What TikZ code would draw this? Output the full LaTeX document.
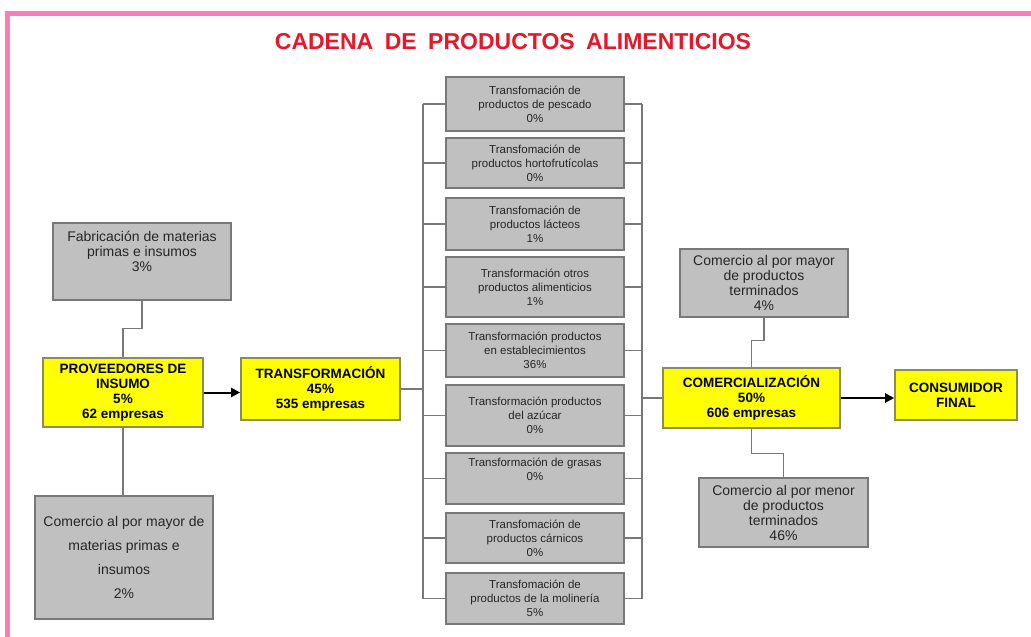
\documentclass[tikz,border=0pt]{standalone}
\usepackage{fontspec}
\setmainfont{Liberation Sans}
\usetikzlibrary{arrows.meta}
\definecolor{pinkb}{RGB}{255,122,186}
\definecolor{titred}{RGB}{232,22,40}
\definecolor{gfill}{RGB}{192,192,192}
\definecolor{gline}{RGB}{120,120,120}
\definecolor{yfill}{RGB}{255,255,0}
\definecolor{yline}{RGB}{140,140,90}
\tikzset{
  gbox/.style={draw=gline, line width=1.6pt, fill=gfill, inner sep=0pt, align=center, text=black!85},
  sidetext/.style={font=\fontsize{14}{15}\selectfont},
  midbox/.style={gbox, minimum width=178pt, font=\fontsize{11.5}{14}\selectfont},
  ybox/.style={draw=yline, line width=1.6pt, fill=yfill, inner sep=0pt, align=center, font=\bfseries\fontsize{13.5}{15}\selectfont},
  conn/.style={draw=gline, line width=1.3pt},
  arr/.style={draw=black, line width=2pt, -{Triangle[length=9pt,width=9pt]}}
}
\begin{document}
\begin{tikzpicture}[x=1pt,y=-1pt]
\useasboundingbox (0,0) rectangle (1031,637);
\fill[white] (0,0) rectangle (1031,637);
\draw[pinkb, line width=5pt] (1031,13) -- (7,13) -- (7,637);
\node[font=\bfseries\fontsize{23}{25}\selectfont, text=titred] (title) at (513,42)
  {CADENA\hspace{0.5em}DE\hspace{0.5em}PRODUCTOS\hspace{0.5em}ALIMENTICIOS};

% left side
\node[gbox, sidetext, minimum width=178pt, minimum height=77pt] (fab) at (142,261.5)
  {Fabricación de materias\\primas e insumos\\3\%\\ \strut};
\node[ybox, minimum width=160pt, minimum height=69pt] (prov) at (123,392.5)
  {PROVEEDORES DE\\INSUMO\\5\%\\62 empresas};
\node[gbox, font=\fontsize{14}{24}\selectfont, minimum width=178pt, minimum height=123pt] (cmm) at (124,557.5)
  {Comercio al por mayor de\\materias primas e\\insumos\\2\%};
\node[ybox, minimum width=159pt, minimum height=62pt] (trans) at (320.5,389)
  {TRANSFORMACIÓN\\45\%\\535 empresas};

% middle column
\node[midbox, minimum height=54pt] (b1) at (535,104) {Transfomación de\\productos de pescado\\0\%};
\node[midbox, minimum height=50pt] (b2) at (535,163) {Transfomación de\\productos hortofrutícolas\\0\%};
\node[midbox, minimum height=52pt] (b3) at (535,224) {Transfomación de\\productos lácteos\\1\%};
\node[midbox, minimum height=60pt] (b4) at (535,287) {Transformación otros\\productos alimenticios\\1\%};
\node[midbox, minimum height=53pt] (b5) at (535,350.5) {Transformación productos\\en establecimientos\\36\%};
\node[midbox, minimum height=61pt] (b6) at (535,415.5) {Transformación productos\\del azúcar\\0\%};
\node[midbox, minimum height=51pt] (b7) at (535,478.5) {Transformación de grasas\\0\%\\ \strut};
\node[midbox, minimum height=50pt] (b8) at (535,538) {Transfomación de\\productos cárnicos\\0\%};
\node[midbox, minimum height=51pt] (b9) at (535,598.5) {Transfomación de\\productos de la molinería\\5\%};
\coordinate (busL) at (423,0);
\coordinate (busR) at (642,0);

% right side
\node[gbox, sidetext, minimum width=168pt, minimum height=68pt] (cpm) at (764,283)
  {Comercio al por mayor\\de productos\\terminados\\4\%};
\node[ybox, minimum width=177pt, minimum height=60pt] (com) at (751.5,398)
  {COMERCIALIZACIÓN\\50\%\\606 empresas};
\node[ybox, minimum width=122pt, minimum height=50pt] (cons) at (956,395)
  {CONSUMIDOR\\FINAL};
\node[gbox, sidetext, minimum width=169pt, minimum height=69pt] (cmen) at (783.5,512.5)
  {Comercio al por menor\\de productos\\terminados\\46\%};

% connectors
\draw[conn] (fab.south) -- ++(0,28) -| (prov.north);
\draw[conn] (prov.south) -- (prov.south |- cmm.north);
\draw[arr] (prov.east) -- (prov.east -| trans.west);
\draw[conn] (trans.east) -- (trans.east -| busL);
\draw[conn] (b1.west -| busL) -- (b9.west -| busL);
\draw[conn] (b1.east -| busR) -- (b9.east -| busR);
\foreach \b in {b1,b2,b3,b4,b5,b6,b7,b8,b9}{
  \draw[conn] (\b.west -| busL) -- (\b.west);
  \draw[conn] (\b.east) -- (\b.east -| busR);
}
\draw[conn] (com.west -| busR) -- (com.west);
\draw[conn] (cpm.south) -- ++(0,23) -| (com.north);
\draw[conn] (com.south) -- ++(0,25) -| (cmen.north);
\draw[arr] (com.east) -- (com.east -| cons.west);
\end{tikzpicture}
\end{document}
